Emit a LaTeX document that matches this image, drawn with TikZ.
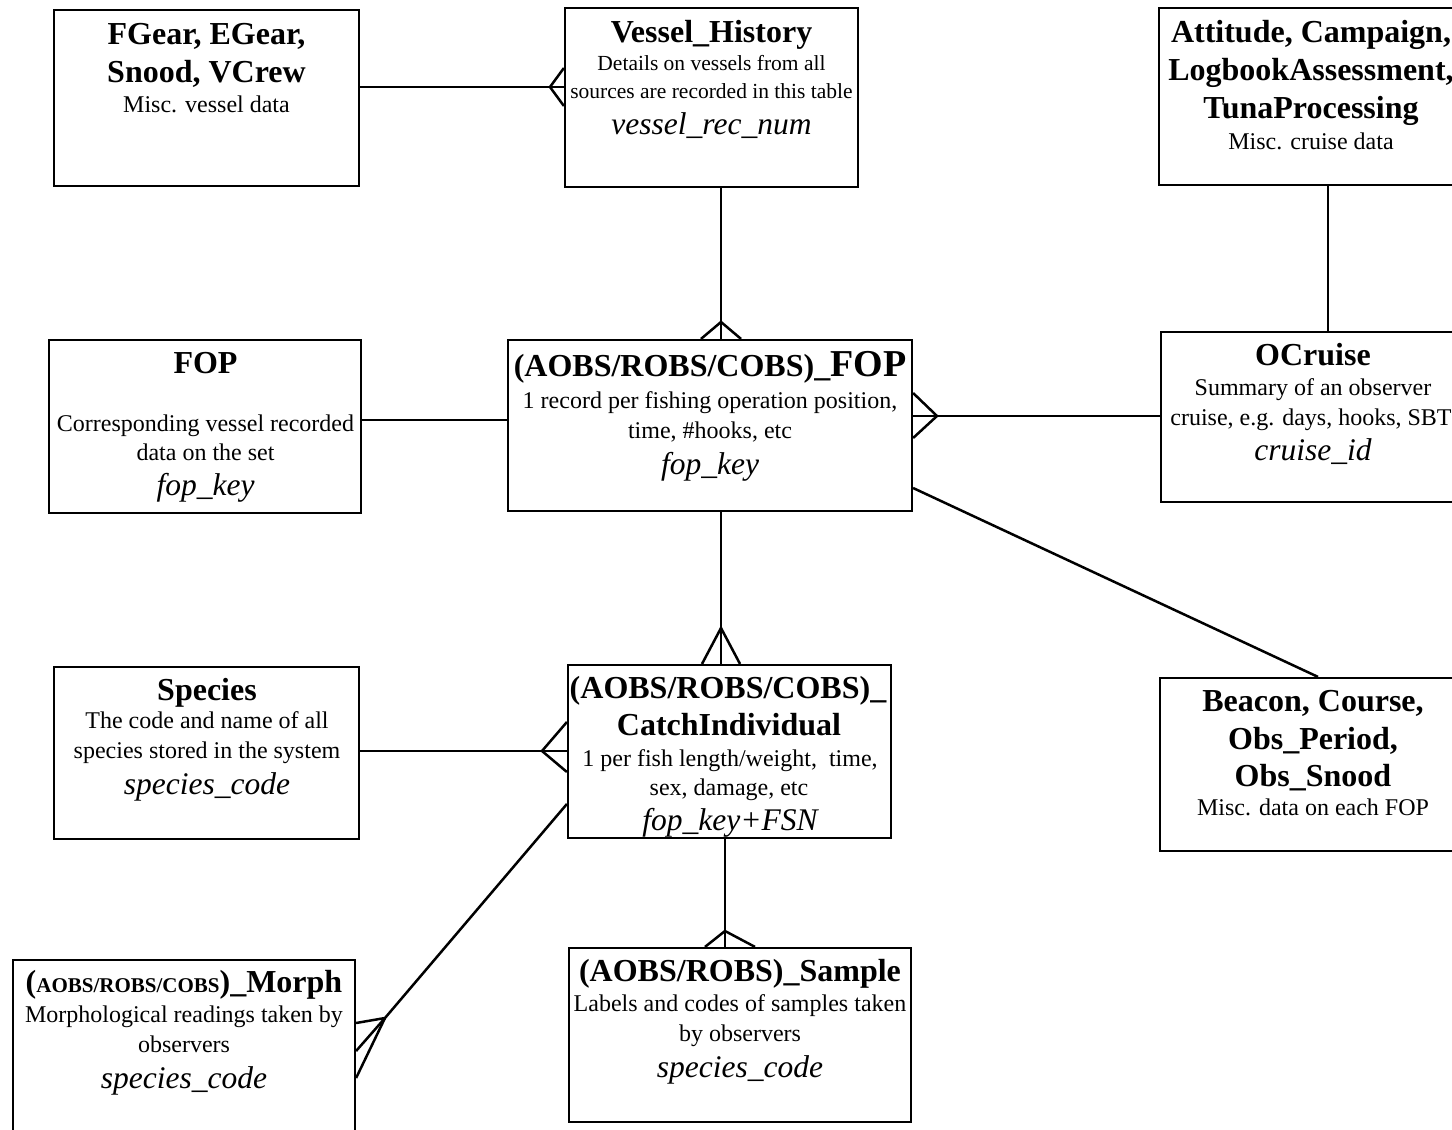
\documentclass[tikz,border=0pt]{standalone}
\usepackage{fontspec}
\setmainfont{Liberation Serif}
\usetikzlibrary{calc}

\tikzset{
  tbl/.style={draw, rectangle, line width=2.2pt, inner sep=0pt},
  conn/.style={line width=2.5pt, line join=miter},
  ttl/.style={anchor=base, inner sep=0pt, font=\fontsize{32}{38}\selectfont\bfseries},
  sub/.style={anchor=base, inner sep=0pt, font=\fontsize{24}{30}\selectfont},
  subs/.style={anchor=base, inner sep=0pt, font=\fontsize{21.5}{28}\selectfont},
  key/.style={anchor=base, inner sep=0pt, font=\fontsize{31.5}{36}\selectfont\itshape},
}
\newcommand{\pfx}{\fontsize{32}{36}\selectfont}

\begin{document}
\begin{tikzpicture}[x=1pt, y=-1pt]
\useasboundingbox (0,0) rectangle (1452,1130);
\clip (0,0) rectangle (1452,1130);

% ---------- tables ----------
\node[tbl, minimum width=305, minimum height=176] (fgear)   at (206.5,98)   {};
\node[tbl, minimum width=293, minimum height=179] (vh)      at (711.5,97.5) {};
\node[tbl, minimum width=307, minimum height=177] (att)     at (1312.5,96.5){};
\node[tbl, minimum width=312, minimum height=173] (fop)     at (205,426.5)  {};
\node[tbl, minimum width=404, minimum height=171] (cfop)    at (710,425.5)  {};
\node[tbl, minimum width=304, minimum height=170] (ocr)     at (1313,417)   {};
\node[tbl, minimum width=305, minimum height=172] (species) at (206.5,753)  {};
\node[tbl, minimum width=323, minimum height=173] (catch)   at (729.5,751.5){};
\node[tbl, minimum width=305, minimum height=173] (beacon)  at (1312.5,764.5){};
\node[tbl, minimum width=342, minimum height=180] (morph)   at (184,1050)   {};
\node[tbl, minimum width=342, minimum height=174] (sample)  at (740,1035)   {};

% ---------- table texts ----------
\node[ttl] (fgear-t1) at (206.5,44) {FGear, EGear,};
\node[ttl] (fgear-t2) at (206.5,82) {Snood, VCrew};
\node[sub] (fgear-s1) at (206.5,112) {Misc. vessel data};

\node[ttl]  (vh-t1) at (711.5,42) {Vessel\_History};
\node[subs] (vh-s1) at (711.5,70) {Details on vessels from all};
\node[subs] (vh-s2) at (711.5,98) {sources are recorded in this table};
\node[key]  (vh-k)  at (711.5,134) {vessel\_rec\_num};

\node[ttl] (att-t1) at (1311,42)  {Attitude, Campaign,};
\node[ttl] (att-t2) at (1311,80)  {LogbookAssessment,};
\node[ttl] (att-t3) at (1311,118) {TunaProcessing};
\node[sub] (att-s1) at (1311,149) {Misc. cruise data};

\node[ttl] (fop-t1) at (205.5,373) {FOP};
\node[sub] (fop-s1) at (205.5,431) {Corresponding vessel recorded};
\node[sub] (fop-s2) at (205.5,460) {data on the set};
\node[key] (fop-k)  at (205.5,495) {fop\_key};

\node[ttl] (cfop-t1) at (710,376) {\pfx(AOBS/ROBS/COBS)\_\fontsize{38}{40}\selectfont FOP};
\node[sub] (cfop-s1) at (710,408) {1 record per fishing operation position,};
\node[sub] (cfop-s2) at (710,438) {time, \#hooks, etc};
\node[key] (cfop-k)  at (710,474) {fop\_key};

\node[ttl] (ocr-t1) at (1313,365) {OCruise};
\node[sub] (ocr-s1) at (1313,395) {Summary of an observer};
\node[sub] (ocr-s2) at (1311,425) {cruise, e.g. days, hooks, SBT};
\node[key] (ocr-k)  at (1313,460) {cruise\_id};

\node[ttl] (species-t1) at (207,700) {Species};
\node[sub] (species-s1) at (207,728) {The code and name of all};
\node[sub] (species-s2) at (207,758) {species stored in the system};
\node[key] (species-k)  at (207,794) {species\_code};

\node[ttl] (catch-t1) at (728,698) {\pfx(AOBS/ROBS/COBS)\_};
\node[ttl] (catch-t2) at (729,735) {CatchIndividual};
\node[sub] (catch-s1) at (730,766) {1 per fish length/weight,\ \ time,};
\node[sub] (catch-s2) at (729,795) {sex, damage, etc};
\node[key] (catch-k)  at (730,830) {fop\_key+FSN};

\node[ttl] (beacon-t1) at (1313,711) {Beacon, Course,};
\node[ttl] (beacon-t2) at (1313,749) {Obs\_Period,};
\node[ttl] (beacon-t3) at (1313,786) {Obs\_Snood};
\node[sub] (beacon-s1) at (1313,815) {Misc. data on each FOP};

\node[ttl] (morph-t1) at (184,992) {(\fontsize{21}{36}\selectfont AOBS/ROBS/COBS\fontsize{32}{38}\selectfont)\_Morph};
\node[sub] (morph-s1) at (184,1022) {Morphological readings taken by};
\node[sub] (morph-s2) at (184,1052) {observers};
\node[key] (morph-k)  at (184,1088) {species\_code};

\node[ttl] (sample-t1) at (740,981) {(AOBS/ROBS)\_Sample};
\node[sub] (sample-s1) at (740,1011) {Labels and codes of samples taken};
\node[sub] (sample-s2) at (740,1041) {by observers};
\node[key] (sample-k)  at (740,1077) {species\_code};

% ---------- relationships ----------
% gear tables -- many vessel history records
\coordinate (a1) at (550,87);
\draw[conn] (fgear.east |- a1) -- (vh.west |- a1);
\draw[conn] ($(vh.west |- a1)+(0,-19)$) -- (a1) -- ($(vh.west |- a1)+(0,19)$);

% vessel history -- many FOP records
\coordinate (b1) at (721,322);
\draw[conn] (vh.south -| b1) -- (cfop.north -| b1);
\draw[conn] ($(cfop.north -| b1)+(-20,0)$) -- (b1) -- ($(cfop.north -| b1)+(20,0)$);

% cruise -- many FOP records
\coordinate (c1) at (937,416);
\draw[conn] (cfop.east |- c1) -- (ocr.west |- c1);
\draw[conn] ($(cfop.east |- c1)+(0,-23)$) -- (c1) -- ($(cfop.east |- c1)+(0,22)$);

% misc cruise data -- cruise
\coordinate (d1) at (1328,0);
\draw[conn] (att.south -| d1) -- (ocr.north -| d1);

% vessel FOP -- observer FOP
\coordinate (e1) at (0,420);
\draw[conn] (fop.east |- e1) -- (cfop.west |- e1);

% FOP -- many catch records
\coordinate (f1) at (721,628);
\draw[conn] (cfop.south -| f1) -- (catch.north -| f1);
\draw[conn] ($(catch.north -| f1)+(-19,0)$) -- (f1) -- ($(catch.north -| f1)+(19,0)$);

% FOP -- misc data on each FOP
\coordinate (g1) at (0,488);
\coordinate (g2) at (1318,0);
\draw[conn] (cfop.east |- g1) -- (beacon.north -| g2);

% species -- many catch records
\coordinate (h1) at (542,751);
\draw[conn] (species.east |- h1) -- (catch.west |- h1);
\draw[conn] ($(catch.west |- h1)+(0,-29)$) -- (h1) -- ($(catch.west |- h1)+(0,21)$);

% catch -- many samples
\coordinate (i1) at (725,931);
\draw[conn] (catch.south -| i1) -- (sample.north -| i1);
\draw[conn] ($(sample.north -| i1)+(-20,0)$) -- (i1) -- ($(sample.north -| i1)+(30,0)$);

% catch -- many morphological readings
\coordinate (j1) at (385,1018);
\coordinate (j2) at (0,804);
\coordinate (j3) at (0,1023);
\coordinate (j4) at (0,1051);
\coordinate (j5) at (0,1078);
\draw[conn] (catch.west |- j2) -- (j1) -- (morph.east |- j3);
\draw[conn] (j1) -- (morph.east |- j4);
\draw[conn] (j1) -- (morph.east |- j5);
\end{tikzpicture}
\end{document}
